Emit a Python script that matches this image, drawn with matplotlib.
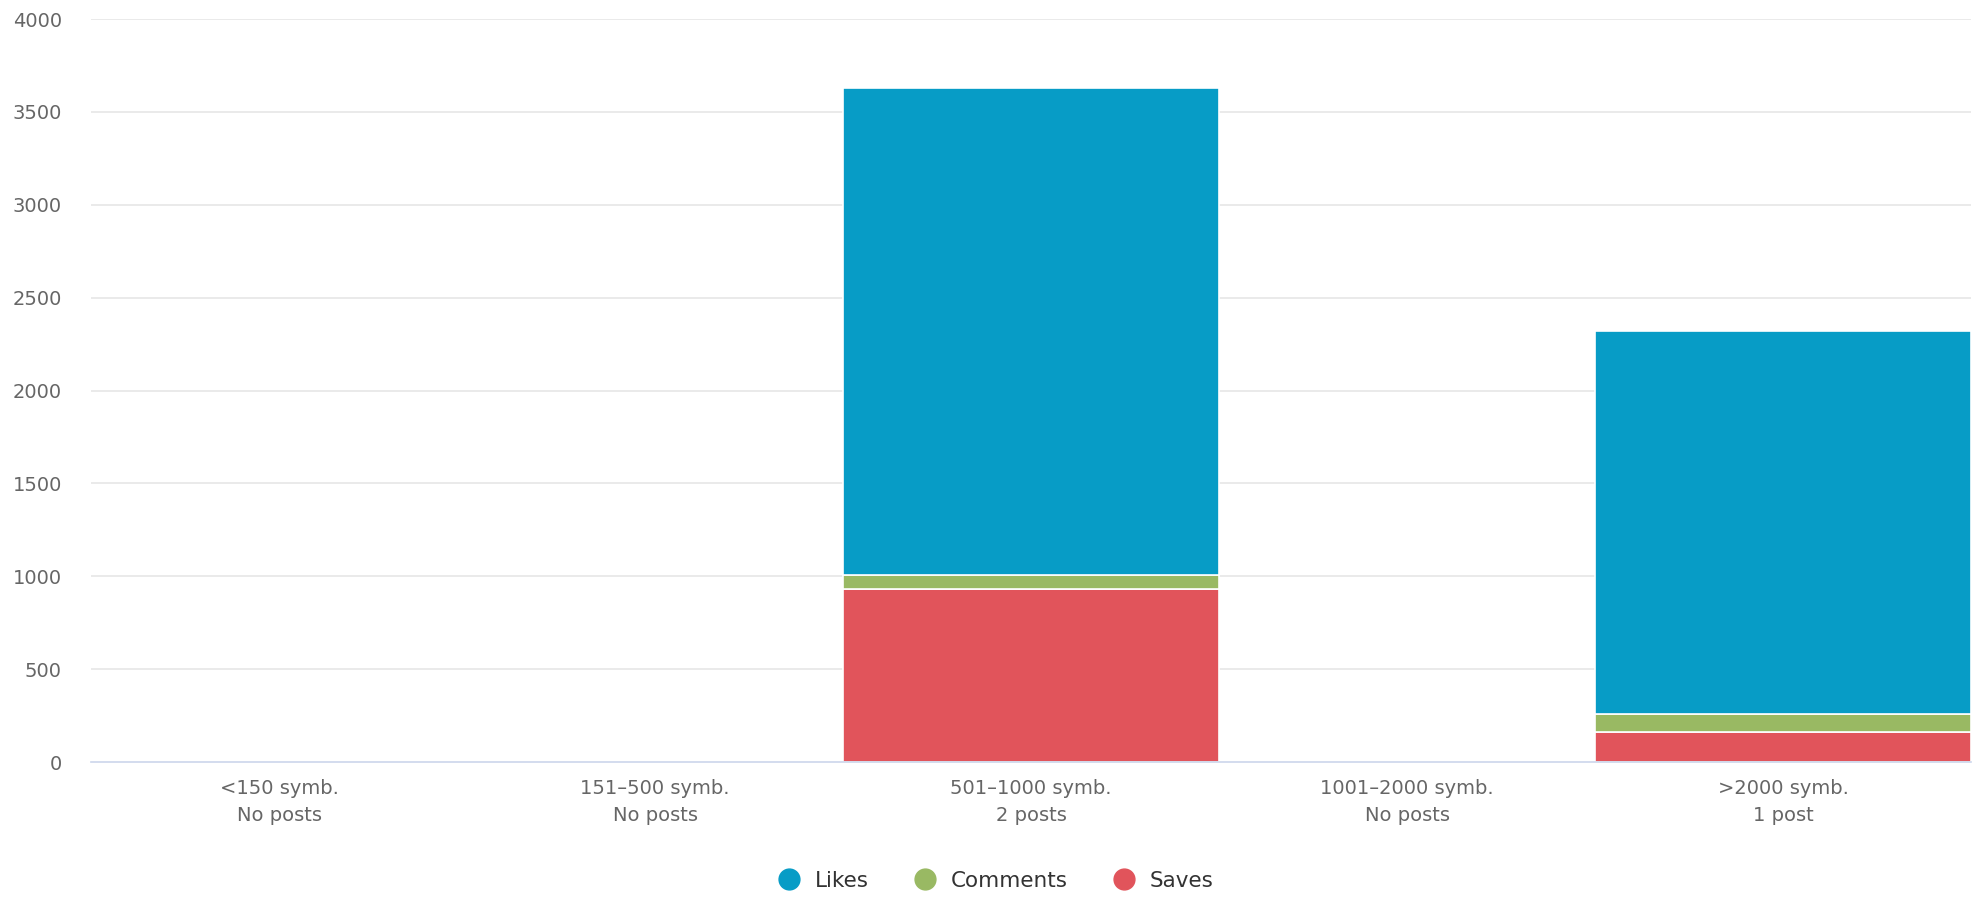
import numpy as np
import matplotlib
matplotlib.use('Agg')
import matplotlib.pyplot as plt
from matplotlib.lines import Line2D

categories = ['<150 symb.\nNo posts', '151–500 symb.\nNo posts', '501–1000 symb.\n2 posts',
              '1001–2000 symb.\nNo posts', '>2000 symb.\n1 post']
saves = [0, 0, 933, 0, 159]
comments = [0, 0, 75, 0, 102]
likes = [0, 0, 2621, 0, 2059]
series_names = ['Likes', 'Comments', 'Saves']
colors = ['#079cc6', '#99b963', '#e1545b']

plt.rcParams['font.family'] = ['DejaVu Sans']
fig = plt.figure(figsize=(19.81, 8.97), dpi=100)
ax = fig.add_axes([0.046, 0.1505, 0.949, 0.8283])

x = np.arange(len(categories))
ax.bar(x, saves, width=1.0, color=colors[2], edgecolor='white', linewidth=1.2, zorder=3)
ax.bar(x, comments, width=1.0, bottom=saves, color=colors[1], edgecolor='white', linewidth=1.2, zorder=3)
base = np.array(saves) + np.array(comments)
ax.bar(x, likes, width=1.0, bottom=base, color=colors[0], edgecolor='white', linewidth=1.2, zorder=3)

ax.set_xlim(-0.5, len(categories) - 0.5)
ax.set_ylim(0, 4000)
ax.set_yticks(range(0, 4001, 500))
ax.grid(axis='y', color='#e6e6e6', linewidth=1.2, zorder=0)
for s in ['top', 'right', 'left']:
    ax.spines[s].set_visible(False)
ax.spines['bottom'].set_color('#ccd6eb')
ax.spines['bottom'].set_linewidth(1.2)
ax.spines['bottom'].set_zorder(4)
ax.tick_params(axis='y', length=0, pad=21, labelsize=14, labelcolor='#666666')
ax.tick_params(axis='x', length=0, pad=12, labelsize=14, labelcolor='#666666')
ax.set_xticks(x)
ax.set_xticklabels(categories, linespacing=1.55)

handles = [Line2D([], [], marker='o', linestyle='none', markersize=15,
                  markerfacecolor=c, markeredgecolor=c) for c in colors]
fig.legend(handles, series_names, loc='center', bbox_to_anchor=(0.5, 0.018), ncol=3,
           frameon=False, fontsize=15.5, labelcolor='#333333', handletextpad=0.2,
           columnspacing=1.6)

fig.savefig('out.png', dpi=100)
